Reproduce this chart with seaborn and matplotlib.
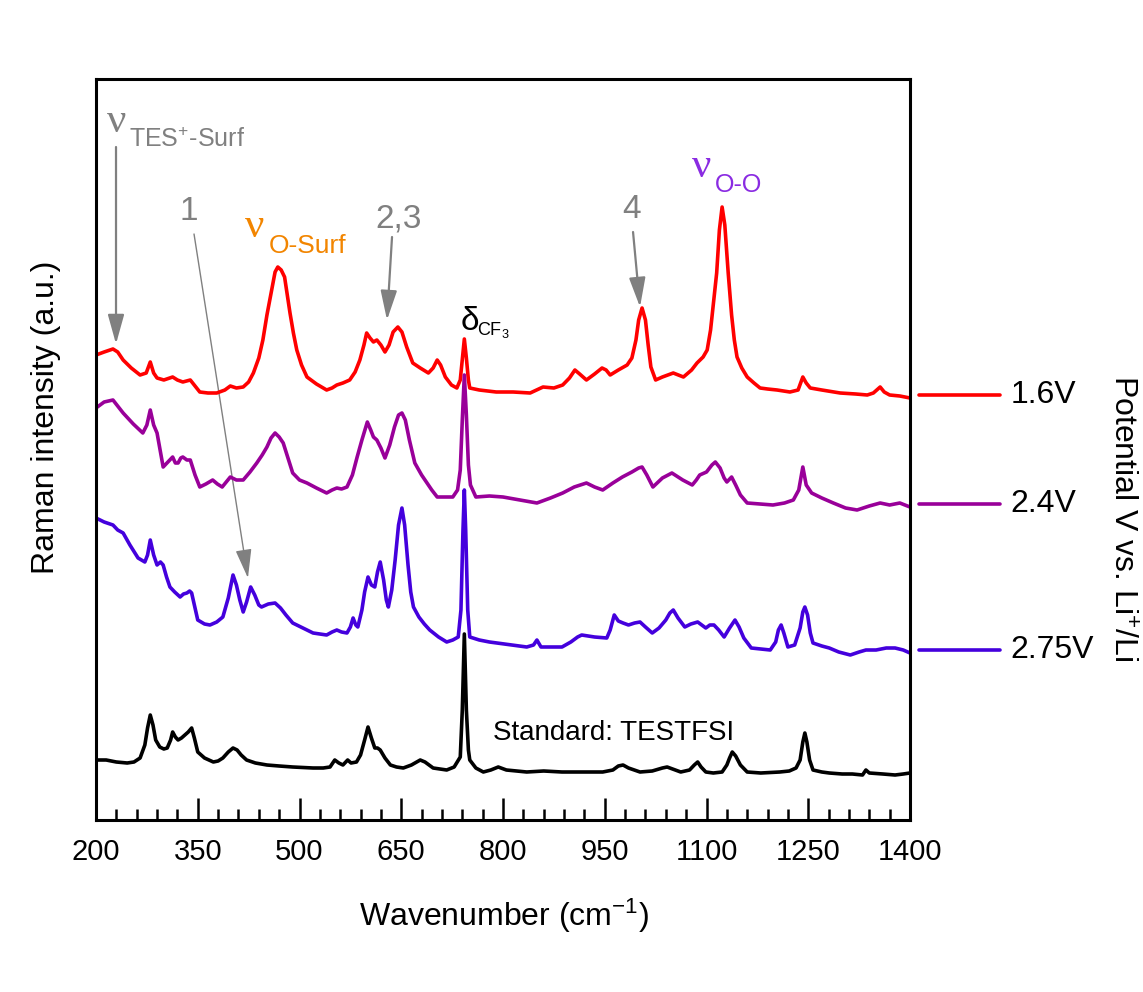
import pandas as pd
import seaborn as sns
import matplotlib.pyplot as plt
from matplotlib.patches import FancyArrowPatch

# Raman spectra (wavenumber in cm-1, intensity in arbitrary offset units)
wn_red = [200, 212, 225, 232, 240, 252, 265, 274, 280, 285, 290, 300, 313, 320, 328, 339, 346, 353, 365, 378,
          390, 398, 407, 417, 425, 432, 440, 446, 452, 459, 464, 468, 473, 478, 482, 486, 491, 496, 503, 511,
          525, 540, 548, 555, 564, 574, 582, 589, 595, 599, 604, 609, 614, 620, 626, 632, 638, 645, 651, 658,
          667, 678, 690, 697, 703, 708, 715, 724, 732, 737, 740, 743, 746, 749, 751, 765, 790, 815, 840, 859,
          875, 888, 898, 906, 913, 923, 935, 946, 952, 958, 970, 983, 990, 996, 1000, 1005, 1010, 1014, 1018, 1025,
          1035, 1051, 1066, 1078, 1086, 1095, 1101, 1106, 1110, 1115, 1119, 1123, 1127, 1132, 1137, 1141, 1145, 1152, 1160, 1170,
          1179, 1190, 1204, 1223, 1235, 1242, 1247, 1253, 1270, 1297, 1320, 1337, 1346, 1356, 1362, 1370, 1385, 1400]
int_red = [465, 468, 471, 468, 460, 452, 445, 447, 458, 447, 442, 440, 443, 440, 438, 440, 434, 428, 427, 427,
           430, 434, 432, 433, 438, 447, 462, 480, 505, 530, 548, 553, 550, 543, 525, 507, 487, 470, 455, 443,
           436, 430, 432, 435, 437, 440, 448, 460, 475, 487, 482, 478, 480, 475, 468, 475, 488, 493, 488, 473,
           457, 452, 447, 452, 460, 455, 443, 435, 432, 440, 460, 481, 462, 440, 432, 430, 428, 428, 427, 433,
           432, 435, 442, 450, 446, 440, 446, 452, 450, 445, 450, 455, 462, 480, 500, 512, 500, 475, 453, 440,
           443, 447, 443, 450, 457, 463, 470, 490, 515, 547, 590, 613, 595, 547, 505, 480, 463, 452, 443, 437,
           432, 431, 430, 428, 430, 443, 437, 432, 430, 427, 426, 425, 427, 433, 428, 425, 424, 422]

wn_purple = [200, 212, 225, 232, 240, 255, 269, 275, 280, 285, 290, 295, 299, 306, 313, 317, 321, 325, 328, 334,
             339, 346, 353, 362, 372, 379, 386, 392, 398, 407, 417, 427, 437, 445, 452, 458, 464, 470, 476, 483,
             490, 500, 511, 525, 540, 548, 555, 562, 570, 578, 585, 592, 600, 605, 609, 614, 620, 626, 633, 640,
             646, 651, 656, 662, 670, 680, 688, 695, 703, 715, 726, 733, 737, 740, 743, 746, 749, 752, 760, 780,
             800, 825, 850, 870, 888, 905, 923, 935, 947, 962, 976, 990, 1000, 1005, 1012, 1021, 1035, 1049, 1065, 1079,
             1085, 1090, 1100, 1108, 1113, 1120, 1126, 1130, 1137, 1143, 1150, 1160, 1180, 1198, 1215, 1228, 1236, 1242, 1247, 1255,
             1270, 1287, 1305, 1322, 1340, 1356, 1370, 1385, 1400]
int_purple = [412, 418, 420, 414, 407, 396, 387, 395, 410, 395, 387, 368, 353, 358, 363, 357, 357, 362, 363, 360,
              360, 345, 333, 336, 340, 336, 333, 338, 343, 340, 340, 348, 357, 365, 373, 382, 387, 383, 377, 362,
              347, 340, 337, 332, 327, 330, 332, 331, 333, 345, 363, 380, 398, 390, 383, 380, 372, 362, 375, 393,
              405, 407, 400, 380, 357, 345, 337, 330, 323, 323, 323, 330, 350, 400, 445, 405, 355, 335, 323, 324,
              323, 320, 317, 322, 327, 333, 337, 333, 330, 337, 343, 348, 352, 353, 345, 333, 342, 347, 340, 335,
              340, 345, 348, 355, 358, 352, 342, 338, 343, 335, 325, 317, 316, 315, 317, 320, 330, 353, 335, 327,
              322, 317, 312, 310, 314, 317, 315, 317, 313]

wn_blue = [200, 212, 225, 232, 240, 250, 262, 272, 276, 280, 285, 290, 295, 299, 304, 309, 316, 324, 329, 334,
           338, 341, 346, 350, 360, 368, 378, 387, 395, 402, 407, 412, 417, 422, 428, 434, 440, 444, 454, 464,
           472, 480, 490, 505, 520, 530, 540, 548, 555, 562, 570, 575, 579, 583, 586, 592, 596, 601, 606, 611,
           615, 619, 624, 628, 631, 636, 641, 646, 651, 655, 660, 664, 668, 676, 684, 692, 705, 717, 726, 734,
           738, 741, 743, 745, 748, 751, 765, 780, 791, 812, 835, 845, 850, 856, 870, 887, 900, 910, 916, 935,
           953, 958, 964, 970, 977, 985, 994, 1002, 1010, 1020, 1030, 1040, 1046, 1051, 1058, 1068, 1077, 1087, 1093, 1099,
           1105, 1111, 1118, 1126, 1134, 1142, 1148, 1155, 1166, 1180, 1194, 1202, 1206, 1210, 1214, 1220, 1230, 1238, 1242, 1245,
           1249, 1253, 1257, 1270, 1281, 1295, 1312, 1325, 1335, 1350, 1365, 1378, 1390, 1400]
int_blue = [302, 298, 295, 290, 287, 275, 262, 258, 265, 280, 265, 255, 258, 255, 243, 233, 228, 223, 226, 227,
            229, 227, 212, 200, 196, 195, 198, 203, 222, 245, 235, 220, 208, 218, 233, 225, 215, 213, 216, 217,
            212, 205, 197, 192, 187, 186, 185, 188, 190, 188, 187, 193, 202, 195, 193, 210, 228, 243, 235, 233,
            248, 258, 240, 220, 213, 230, 260, 295, 312, 295, 255, 228, 213, 203, 196, 190, 183, 178, 180, 183,
            210, 290, 330, 290, 210, 183, 180, 178, 177, 175, 173, 175, 180, 173, 173, 173, 178, 183, 185, 183,
            182, 190, 205, 199, 197, 195, 197, 198, 193, 187, 192, 200, 207, 210, 202, 193, 196, 198, 195, 192,
            195, 195, 190, 183, 192, 200, 193, 182, 172, 171, 170, 178, 190, 195, 187, 173, 175, 192, 208, 213,
            205, 187, 177, 174, 172, 168, 165, 168, 170, 170, 172, 172, 170, 167]

wn_black = [200, 215, 230, 246, 256, 265, 272, 276, 280, 284, 288, 294, 300, 305, 310, 313, 317, 321, 326, 331,
            336, 341, 345, 350, 360, 373, 380, 387, 395, 402, 408, 414, 422, 435, 452, 470, 490, 520, 535, 545,
            552, 558, 564, 571, 576, 584, 590, 596, 601, 606, 611, 615, 619, 626, 634, 643, 653, 665, 678, 685,
            697, 707, 717, 728, 737, 740, 743, 746, 749, 751, 760, 771, 782, 793, 805, 835, 860, 887, 920, 947,
            962, 970, 977, 985, 1002, 1020, 1035, 1042, 1050, 1062, 1075, 1082, 1087, 1092, 1099, 1110, 1123, 1130, 1134, 1138,
            1143, 1150, 1160, 1180, 1208, 1222, 1232, 1238, 1242, 1245, 1248, 1252, 1257, 1270, 1281, 1300, 1315, 1330, 1335, 1340,
            1360, 1378, 1390, 1400]
int_black = [60, 60, 58, 57, 58, 62, 75, 92, 105, 95, 80, 73, 71, 72, 80, 88, 83, 80, 82, 85,
             88, 92, 82, 68, 62, 58, 59, 62, 68, 72, 70, 65, 60, 57, 55, 54, 53, 52, 52, 53,
             60, 57, 55, 60, 57, 58, 65, 80, 93, 82, 72, 72, 70, 62, 55, 53, 52, 55, 60, 58,
             52, 51, 50, 53, 63, 110, 186, 110, 70, 60, 52, 48, 50, 53, 50, 48, 49, 48, 48, 48,
             50, 54, 55, 52, 48, 49, 52, 53, 51, 48, 50, 55, 58, 53, 48, 47, 48, 55, 62, 68,
             64, 55, 48, 47, 48, 49, 52, 60, 78, 87, 78, 60, 50, 48, 47, 46, 46, 45, 50, 47,
             46, 45, 46, 47]

potentials = ["1.6V", "2.4V", "2.75V"]
colors = {"1.6V": "#ff0000", "2.4V": "#990099", "2.75V": "#4400dd", "std": "#000000"}

spectra = {
    "1.6V": (wn_red, int_red),
    "2.4V": (wn_purple, int_purple),
    "2.75V": (wn_blue, int_blue),
    "std": (wn_black, int_black),
}

major_ticks = list(range(200, 1401, 150))
minor_ticks = list(range(200, 1401, 30))

sns.set_theme(style="white")
plt.rcParams['font.family'] = ['Liberation Sans', 'DejaVu Sans']
plt.rcParams['mathtext.fontset'] = 'custom'
plt.rcParams['mathtext.rm'] = 'Liberation Sans'
plt.rcParams['mathtext.it'] = 'Liberation Sans:italic'
plt.rcParams['mathtext.bf'] = 'Liberation Sans:bold'
plt.rcParams['text.color'] = 'black'
plt.rcParams['axes.labelcolor'] = 'black'
plt.rcParams['xtick.color'] = 'black'

fig = plt.figure(figsize=(11.43, 9.92), dpi=100)
ax = fig.add_axes([96 / 1143, 1 - 820 / 992, 814 / 1143, 741 / 992])

for key, (wn, inten) in spectra.items():
    df = pd.DataFrame({"Wavenumber": wn, "Intensity": inten})
    sns.lineplot(data=df, x="Wavenumber", y="Intensity", color=colors[key], lw=2.6,
                 estimator=None, sort=False, ax=ax)

ax.set_xlim(200, 1400)
ax.set_ylim(0, 741)
ax.set_xticks(major_ticks)
ax.set_xticks(minor_ticks, minor=True)
ax.set_yticks([])
ax.tick_params(axis='x', which='major', direction='in', length=16, width=1.8,
               labelsize=21, pad=13, color='black', labelcolor='black', bottom=True)
ax.tick_params(axis='x', which='minor', direction='in', length=8, width=1.8,
               color='black', bottom=True)
for sp in ax.spines.values():
    sp.set_visible(True)
    sp.set_color('black')
    sp.set_linewidth(2.2)
ax.set_xlabel("")
ax.set_ylabel("")

ax.text(0.501, -0.13, "Wavenumber (cm$^{-1}$)", transform=ax.transAxes,
        ha='center', va='center', fontsize=23, color='black')
ax.text(-0.061, 0.544, "Raman intensity (a.u.)", transform=ax.transAxes,
        ha='center', va='center', rotation=90, fontsize=23, color='black')
fig.text(0.981, 0.478, "Potential V vs. Li$^{+}$/Li", ha='center', va='center',
         rotation=270, fontsize=23, color='black')

# potential labels on the right, outside the frame
for p in potentials:
    y_end = spectra[p][1][-1] + 3
    ax.plot([1413, 1533], [y_end, y_end], color=colors[p], lw=2.6, clip_on=False)
    ax.text(1548, y_end, p, ha='left', va='center', fontsize=23, color='black', clip_on=False)

gray = "#808080"
nu_font = ['Liberation Serif', 'DejaVu Serif']

# peak labels
ax.text(216, 688, "ν", color=gray, fontsize=31, family=nu_font, ha='left', va='baseline')
ax.text(249, 673, "TES$^{+}$-Surf", color=gray, fontsize=18, ha='left', va='baseline')
ax.text(420, 583, "ν", color="#f28500", fontsize=31, family=nu_font, ha='left', va='baseline')
ax.text(454, 567, "O-Surf", color="#f28500", fontsize=19, ha='left', va='baseline')
ax.text(1079, 643, "ν", color="#8a2be2", fontsize=31, family=nu_font, ha='left', va='baseline')
ax.text(1113, 628, "O-O", color="#8a2be2", fontsize=18, ha='left', va='baseline')
ax.text(737, 490, "δ", color="black", fontsize=24, ha='left', va='baseline')
ax.text(762, 485, "CF$_{3}$", color="black", fontsize=13, ha='left', va='baseline')
ax.text(337, 600, "1", color=gray, fontsize=24, ha='center', va='baseline')
ax.text(646, 593, "2,3", color=gray, fontsize=24, ha='center', va='baseline')
ax.text(990, 602, "4", color=gray, fontsize=24, ha='center', va='baseline')
ax.text(785, 80, "Standard: TESTFSI", color="black", fontsize=20, ha='left', va='baseline')

arrows = [((229.5, 673), (229.5, 476), 1.6),
          ((344.5, 586), (424, 242), 1.0),
          ((636.4, 583), (629, 500), 1.6),
          ((991.7, 588), (1002, 513), 1.6)]
for start, end, w in arrows:
    arr = FancyArrowPatch(start, end, arrowstyle="-|>,head_length=18,head_width=5",
                          mutation_scale=1, color=gray, lw=w, shrinkA=0, shrinkB=0)
    ax.add_patch(arr)

plt.savefig("out.png", dpi=100)
